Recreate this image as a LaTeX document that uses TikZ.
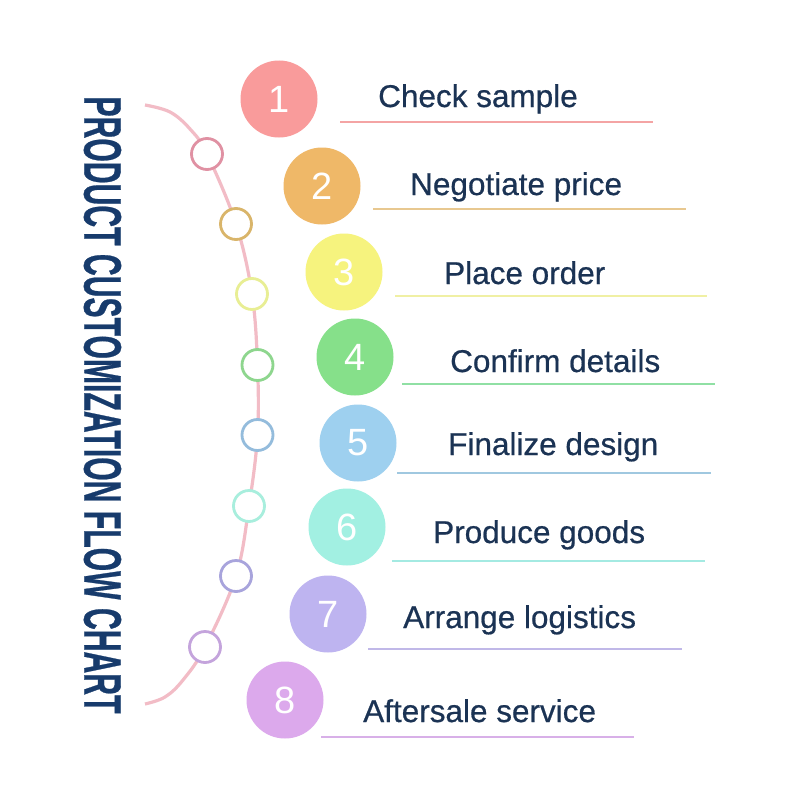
\documentclass[tikz,border=0pt]{standalone}
\usepackage{fontspec}
\setmainfont{Liberation Sans}
\newfontfamily\labfont[FakeBold=0.6]{Liberation Sans}
\newfontfamily\titlefont[FakeBold=0.8]{Liberation Sans Bold}
\usepackage{graphicx}
\definecolor{titleblue}{HTML}{173B6C}
\definecolor{navy}{HTML}{1B3354}
\definecolor{arcpink}{HTML}{F2BCC6}
\definecolor{f1}{HTML}{F99B9B}\definecolor{f2}{HTML}{EFB868}
\definecolor{f3}{HTML}{F6F37E}\definecolor{f4}{HTML}{86E08A}
\definecolor{f5}{HTML}{9ED0EF}\definecolor{f6}{HTML}{A2F0E2}
\definecolor{f7}{HTML}{BEB4F0}\definecolor{f8}{HTML}{DCA9EC}
\definecolor{s1}{HTML}{E091A3}\definecolor{s2}{HTML}{D9B56A}
\definecolor{s3}{HTML}{E8EE94}\definecolor{s4}{HTML}{8ED68E}
\definecolor{s5}{HTML}{94BCDC}\definecolor{s6}{HTML}{A8EEDD}
\definecolor{s7}{HTML}{A8A4DC}\definecolor{s8}{HTML}{C4A4DC}
\definecolor{l1}{HTML}{F4A4A4}\definecolor{l2}{HTML}{E8C890}
\definecolor{l3}{HTML}{F0F0A4}\definecolor{l4}{HTML}{90E0A4}
\definecolor{l5}{HTML}{A0C8E0}\definecolor{l6}{HTML}{A4EAE2}
\definecolor{l7}{HTML}{C0B8E8}\definecolor{l8}{HTML}{D8B0E8}
\begin{document}
\begin{tikzpicture}[x=1pt,y=-1pt,
  bigc/.style={circle, minimum size=77pt, inner sep=0pt, text=white,
    font=\fontsize{38}{38}\selectfont},
  smallc/.style={circle, minimum size=31pt, inner sep=0pt, fill=white, line width=2.8pt},
  lab/.style={inner sep=0pt, anchor=base west, text=navy,
    font=\labfont\fontsize{31.5}{31.5}\selectfont},
  uline/.style={line width=2pt}]
\useasboundingbox (0,0) rectangle (800,800);
\fill[white] (0,0) rectangle (800,800);

% title
\node[rotate=-90, text=titleblue, inner sep=0pt] (title) at (102.5,405)
  {\scalebox{0.569}[1]{\titlefont\fontsize{53}{53}\selectfont PRODUCT CUSTOMIZATION FLOW CHART}};

% arc
\draw[arcpink, line width=3.2pt] plot[smooth, tension=0.6] coordinates {
  (145,105) (170,112) (190,129) (207,154) (236,224) (252,294) (257.5,365)
  (257.5,435) (249,506) (236,576) (205,647) (183,680) (165,697) (145,704)};

% small circles on arc
\node[smallc, draw=s1] (a1) at (207,154) {};
\node[smallc, draw=s2] (a2) at (236,224) {};
\node[smallc, draw=s3] (a3) at (252,294) {};
\node[smallc, draw=s4] (a4) at (257.5,365) {};
\node[smallc, draw=s5] (a5) at (257.5,435) {};
\node[smallc, draw=s6] (a6) at (249,506) {};
\node[smallc, draw=s7] (a7) at (236,576) {};
\node[smallc, draw=s8] (a8) at (205,647) {};

% big numbered circles
\node[bigc, fill=f1] (n1) at (279,99) {1};
\node[bigc, fill=f2] (n2) at (322,186) {2};
\node[bigc, fill=f3] (n3) at (344,272) {3};
\node[bigc, fill=f4] (n4) at (355,357) {4};
\node[bigc, fill=f5] (n5) at (358,443) {5};
\node[bigc, fill=f6] (n6) at (347,527) {6};
\node[bigc, fill=f7] (n7) at (328,614) {7};
\node[bigc, fill=f8] (n8) at (285,700) {8};

% labels
\node[lab] (t1) at (378,107) {Check sample};
\node[lab] (t2) at (410,195) {Negotiate price};
\node[lab] (t3) at (444,284) {Place order};
\node[lab] (t4) at (450,372) {Confirm details};
\node[lab] (t5) at (448,455) {Finalize design};
\node[lab] (t6) at (433,543) {Produce goods};
\node[lab] (t7) at (403,628) {Arrange logistics};
\node[lab] (t8) at (363,722) {Aftersale service};

% underlines
\coordinate (u1a) at (340,122);   \coordinate (u1b) at (653,122);
\coordinate (u2a) at (373,209);   \coordinate (u2b) at (686,209);
\coordinate (u3a) at (395,296);   \coordinate (u3b) at (707,296);
\coordinate (u4a) at (402,384);   \coordinate (u4b) at (715,384);
\coordinate (u5a) at (397,472.5); \coordinate (u5b) at (711,472.5);
\coordinate (u6a) at (392,560.5); \coordinate (u6b) at (705,560.5);
\coordinate (u7a) at (368,649);   \coordinate (u7b) at (682,649);
\coordinate (u8a) at (321,737);   \coordinate (u8b) at (634,737);
\draw[uline, l1] (u1a) -- (u1b);
\draw[uline, l2] (u2a) -- (u2b);
\draw[uline, l3] (u3a) -- (u3b);
\draw[uline, l4] (u4a) -- (u4b);
\draw[uline, l5] (u5a) -- (u5b);
\draw[uline, l6] (u6a) -- (u6b);
\draw[uline, l7] (u7a) -- (u7b);
\draw[uline, l8] (u8a) -- (u8b);
\end{tikzpicture}
\end{document}
